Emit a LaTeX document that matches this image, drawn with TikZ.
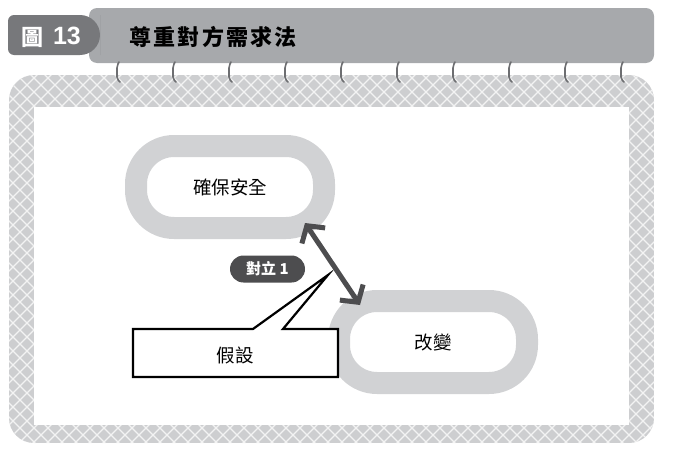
\documentclass[tikz,border=0pt]{standalone}
\usepackage{fontspec}
\newfontfamily\cjk{Noto Sans CJK TC}
\newfontfamily\cjktitle{Noto Sans CJK TC}[LetterSpace=10]
\newfontfamily\latinbold{Liberation Sans}
\usetikzlibrary{arrows.meta}
\definecolor{bargray}{HTML}{A7A9AC}
\definecolor{tabgray}{HTML}{77787B}
\definecolor{hatchgray}{HTML}{CDCED0}
\definecolor{ringgray}{HTML}{D1D2D4}
\definecolor{hookgray}{HTML}{6D6E71}
\definecolor{inkgray}{HTML}{4D4D4F}

\begin{document}
\begin{tikzpicture}[x=1pt,y=-1pt,line cap=round,line join=round,every node/.style={font=\cjk},
  goal/.style={draw=ringgray,line width=22,fill=white,rounded corners=38,minimum width=188,minimum height=82,font=\cjk\fontsize{18.5}{18.5}\selectfont},
  tag/.style={fill=inkgray,text=white,rounded corners=13.5,minimum width=75,minimum height=27,inner sep=0pt,font=\cjk\bfseries\fontsize{15}{15}\selectfont},
  barb/.style={{Straight Barb[length=12pt,width=28pt]}-{Straight Barb[length=12pt,width=28pt]}}]
  \useasboundingbox (0,0) rectangle (673,463);
  \begin{scope}
    \clip[rounded corners=25] (9,75) rectangle (654,443);
    \fill[hatchgray] (9,75) rectangle (654,443);
    \foreach \s in {-520,-506,...,690}
      \draw[white!75!hatchgray,line width=1.1] (\s,70) -- ++(380,380) (\s+380,70) -- ++(-380,380);
  \end{scope}
  \fill[white] (34,107) rectangle (629,425);
  \fill[bargray,rounded corners=8] (89,8) rectangle (654,63);
  \fill[tabgray] (8,35) [rounded corners=6] |- (60,15) [rounded corners=20] -| (100,35) |- (60,55) [rounded corners=6] -| (8,35) -- cycle;
  \node[text=white,font=\cjk\bfseries\fontsize{22}{22}\selectfont] (fig) at (32,37) {圖};
  \node[text=white,font=\latinbold\bfseries\fontsize{25}{25}\selectfont] (num) at (67,36) {13};
  \node[anchor=west,font=\cjktitle\bfseries\fontsize{22}{22}\selectfont] (title) at (126,37) {尊重對方需求法};
  \foreach \i in {0,...,9}
    \draw[hookgray,line width=1.6,rounded corners=2] (119+56*\i,62) -- (117+56*\i,66) -- (117+56*\i,79) -- (120+56*\i,82);
  \node[goal] (safe) at (230,187) {確保安全};
  \node[goal] (change) at (433,342) {改變};
  \draw[black,line width=2.2,fill=white,line join=miter] (133,329) -- (253,329) -- (328,275) -- (283,329) -- (338,329) -- (338,377) -- (133,377) -- cycle;
  \node[font=\cjk\fontsize{18.5}{18.5}\selectfont] (assume) at (235,355) {假設};
  \coordinate (p) at (305,223);
  \coordinate (q) at (360,305);
  \draw[inkgray,line width=5,line cap=butt,line join=miter,barb] (p) -- (q);
  \node[tag] (conflict) at (267.5,269) {對立 1};
\end{tikzpicture}
\end{document}
